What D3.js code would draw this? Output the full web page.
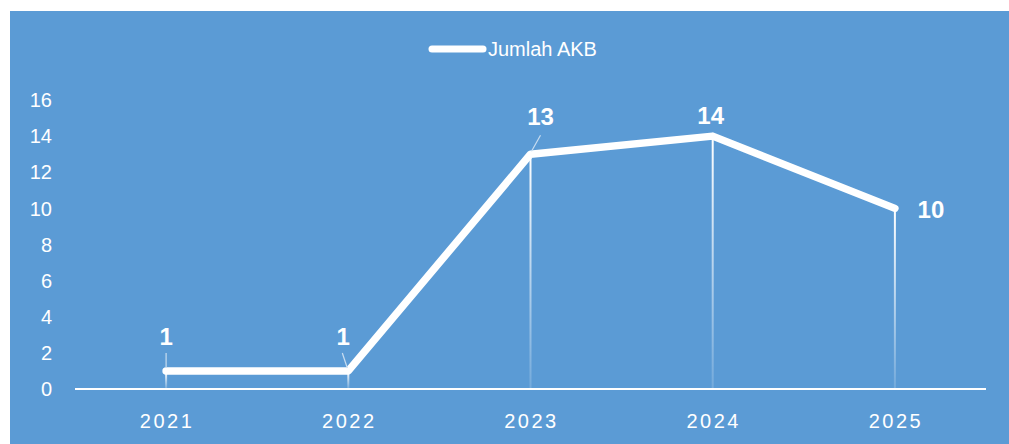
<!DOCTYPE html>
<html>
<head>
<meta charset="utf-8">
<script src="https://cdn.jsdelivr.net/npm/d3@7"></script>
<style>
  body { margin: 0; background: #fff; }
  svg text { font-family: "Liberation Sans", "DejaVu Sans", sans-serif; fill: #fff; }
</style>
</head>
<body>
<div class="chart"></div>
<script>
var years = ["2021", "2022", "2023", "2024", "2025"];
var akb = [1, 1, 13, 14, 10];
var yTicks = [0, 2, 4, 6, 8, 10, 12, 14, 16];
var seriesName = "Jumlah AKB";

var W = 1009, H = 444;
var svg = d3.select("div.chart").append("svg")
  .attr("width", W).attr("height", H);

// blue panel
svg.append("rect").attr("x", 10).attr("y", 11)
  .attr("width", W - 10).attr("height", H - 11)
  .attr("fill", "#5b9bd5");

var x = d3.scaleBand().domain(years).range([75, 986]);
var y = d3.scaleLinear().domain([0, 16]).range([389, 100]);
var cx = function (d) { return x(d) + x.bandwidth() / 2; };

var data = years.map(function (d, i) { return { year: d, v: akb[i] }; });

// gradient for drop lines
var defs = svg.append("defs");
var grad = defs.append("linearGradient").attr("id", "dropFade")
  .attr("x1", 0).attr("y1", 0).attr("x2", 0).attr("y2", 1);
grad.append("stop").attr("offset", "0%").attr("stop-color", "#fff").attr("stop-opacity", 1);
grad.append("stop").attr("offset", "100%").attr("stop-color", "#fff").attr("stop-opacity", 0.15);

// drop lines
svg.selectAll("rect.drop").data(data).enter().append("rect")
  .attr("class", "drop")
  .attr("x", function (d) { return cx(d.year) - 1; })
  .attr("y", function (d) { return y(d.v); })
  .attr("width", 2)
  .attr("height", function (d) { return y(0) - y(d.v); })
  .attr("fill", "url(#dropFade)");

// y axis labels (no axis line)
svg.selectAll("text.ytick").data(yTicks).enter().append("text")
  .attr("class", "ytick")
  .attr("x", 52).attr("y", function (d) { return y(d); })
  .attr("dy", "0.36em")
  .attr("text-anchor", "end")
  .style("font-size", "20px")
  .text(function (d) { return d; });

// x axis line
svg.append("line").attr("x1", 75).attr("x2", 986)
  .attr("y1", y(0)).attr("y2", y(0))
  .attr("stroke", "#fff").attr("stroke-width", 2);

// x labels
svg.selectAll("text.xtick").data(years).enter().append("text")
  .attr("class", "xtick")
  .attr("x", function (d) { return cx(d) + 1; })
  .attr("y", 428)
  .attr("text-anchor", "middle")
  .style("font-size", "20px")
  .style("letter-spacing", "2.5px")
  .text(function (d) { return d; });

// main line
var line = d3.line().x(function (d) { return cx(d.year); }).y(function (d) { return y(d.v); });
svg.append("path").datum(data)
  .attr("d", line)
  .attr("fill", "none")
  .attr("stroke", "#fff")
  .attr("stroke-width", 7.5)
  .attr("stroke-linejoin", "round")
  .attr("stroke-linecap", "round");

// data labels
var labelPos = [
  { dx: 0, dy: -35, lead: [0, -3, 0, -18] },
  { dx: -5, dy: -35, lead: [-1, -3, -6, -18] },
  { dx: 10, dy: -38, lead: [1, -3, 10, -19] },
  { dx: -2, dy: -21, lead: null },
  { dx: 36, dy: 1, lead: null }
];
data.forEach(function (d, i) {
  var px = cx(d.year), py = y(d.v), p = labelPos[i];
  if (p.lead) {
    svg.append("line")
      .attr("x1", px + p.lead[0]).attr("y1", py + p.lead[1])
      .attr("x2", px + p.lead[2]).attr("y2", py + p.lead[3])
      .attr("stroke", "#c9ddf0").attr("stroke-width", 1.2);
  }
  svg.append("text")
    .attr("x", px + p.dx).attr("y", py + p.dy)
    .attr("dy", "0.36em")
    .attr("text-anchor", "middle")
    .style("font-size", "24px")
    .style("font-weight", "bold")
    .text(d.v);
});

// legend
svg.append("line").attr("x1", 432).attr("x2", 483)
  .attr("y1", 49).attr("y2", 49)
  .attr("stroke", "#fff").attr("stroke-width", 7)
  .attr("stroke-linecap", "round");
svg.append("text").attr("x", 488).attr("y", 49).attr("dy", "0.36em")
  .style("font-size", "20px")
  .text(seriesName);
</script>
</body>
</html>
